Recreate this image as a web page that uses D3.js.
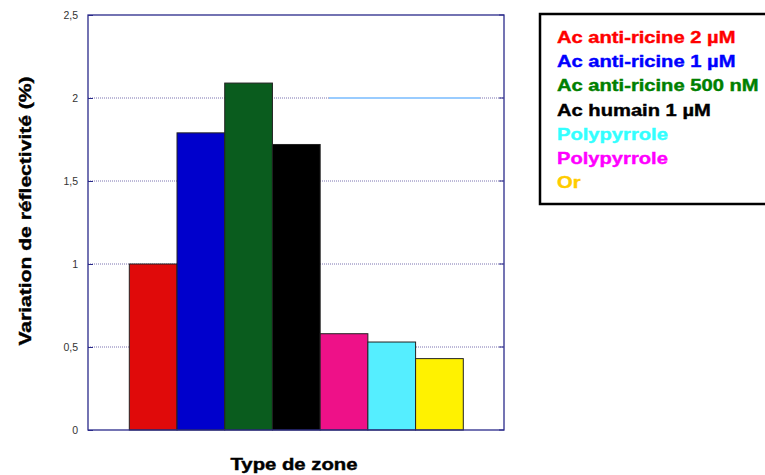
<!DOCTYPE html>
<html><head><meta charset="utf-8">
<script src="https://cdn.jsdelivr.net/npm/d3@7/dist/d3.min.js"></script>
<style>body{margin:0;background:#fff}svg{display:block}</style>
</head><body><svg id="c" width="765" height="475"></svg>
<script>
const categories = ["Ac anti-ricine 2 µM","Ac anti-ricine 1 µM","Ac anti-ricine 500 nM","Ac humain 1 µM","Polypyrrole (m)","Polypyrrole (c)","Or"];
const values = [1.0, 1.79, 2.09, 1.72, 0.58, 0.53, 0.43];
const barColors = ["#e00a0a","#0000cc","#0a5c1e","#000000","#ee1188","#55eeff","#fff200"];
const legendLabels = ["Ac anti-ricine 2 µM","Ac anti-ricine 1 µM","Ac anti-ricine 500 nM","Ac humain 1 µM","Polypyrrole","Polypyrrole","Or"];
const legendColors = ["#ff0000","#0000ff","#008000","#000000","#33ffff","#ff00ff","#ffcc00"];
const yTicks = [0, 0.5, 1, 1.5, 2, 2.5];
const yTickLabels = ["0","0,5","1","1,5","2","2,5"];

const FONT = "Arial, 'Liberation Sans', sans-serif";
const svg = d3.select("#c");
const L=88, R=504, T=15, B=430;
const y = d3.scaleLinear().domain([0,2.5]).range([B,T]);
const x = d3.scaleBand().domain(categories).range([129.3,463.3]).padding(0);

// gridlines
svg.append("g").selectAll("line").data(yTicks.filter(v=>v>0&&v<2.5)).join("line")
  .attr("x1",L).attr("x2",R).attr("y1",d=>y(d)).attr("y2",d=>y(d))
  .attr("stroke","#7b72b0").attr("stroke-width",1).attr("stroke-dasharray","1,1");
// light blue segment at 2
svg.append("line").attr("x1",329).attr("x2",480).attr("y1",y(2)).attr("y2",y(2))
  .attr("stroke","#99ccff").attr("stroke-width",2);

// bars
svg.append("g").selectAll("rect").data(values).join("rect")
  .attr("x",(d,i)=>x(categories[i])).attr("width",x.bandwidth())
  .attr("y",d=>y(d)).attr("height",d=>B-y(d))
  .attr("fill",(d,i)=>barColors[i]).attr("stroke","#222").attr("stroke-width",1);

// frame
svg.append("rect").attr("x",L).attr("y",T).attr("width",R-L).attr("height",B-T)
  .attr("fill","none").attr("stroke","#2a2a8a").attr("stroke-width",1.3);

// y axis
const ax = d3.axisLeft(y).tickValues(yTicks).tickFormat((d,i)=>yTickLabels[i]).tickSize(-5).tickPadding(10);
const g = svg.append("g").attr("transform",`translate(${L},0)`).call(ax);
g.select(".domain").remove();
g.selectAll(".tick line").attr("stroke","#2a2a8a");
g.selectAll(".tick text").attr("font-family",FONT).attr("font-size",10.5).attr("fill","#333");
// right inward ticks
svg.append("g").selectAll("line").data(yTicks).join("line")
  .attr("x1",R-5).attr("x2",R).attr("y1",d=>y(d)).attr("y2",d=>y(d)).attr("stroke","#2a2a8a");

// titles
svg.append("text").attr("transform",`translate(31,211) rotate(-90) scale(1.24,1)`).attr("text-anchor","middle")
  .attr("font-family",FONT).attr("font-weight","bold").attr("font-size",17)
  .attr("stroke","#000").attr("stroke-width",0.4)
  .text("Variation de réflectivité (%)");
svg.append("text").attr("transform","translate(294,470) scale(1.27,1)").attr("text-anchor","middle")
  .attr("font-family",FONT).attr("font-weight","bold").attr("font-size",16)
  .attr("stroke","#000").attr("stroke-width",0.4)
  .text("Type de zone");

// legend
svg.append("rect").attr("x",540).attr("y",14).attr("width",240).attr("height",190)
  .attr("fill","#fff").attr("stroke","#000").attr("stroke-width",2.5);
svg.append("g").selectAll("text").data(legendLabels).join("text")
  .attr("transform",(d,i)=>`translate(557,${43+i*24.2}) scale(1.26,1)`)
  .attr("font-family",FONT).attr("font-weight","bold").attr("font-size",16)
  .attr("fill",(d,i)=>legendColors[i]).attr("stroke",(d,i)=>legendColors[i]).attr("stroke-width",0.4)
  .text(d=>d);
</script></body></html>
